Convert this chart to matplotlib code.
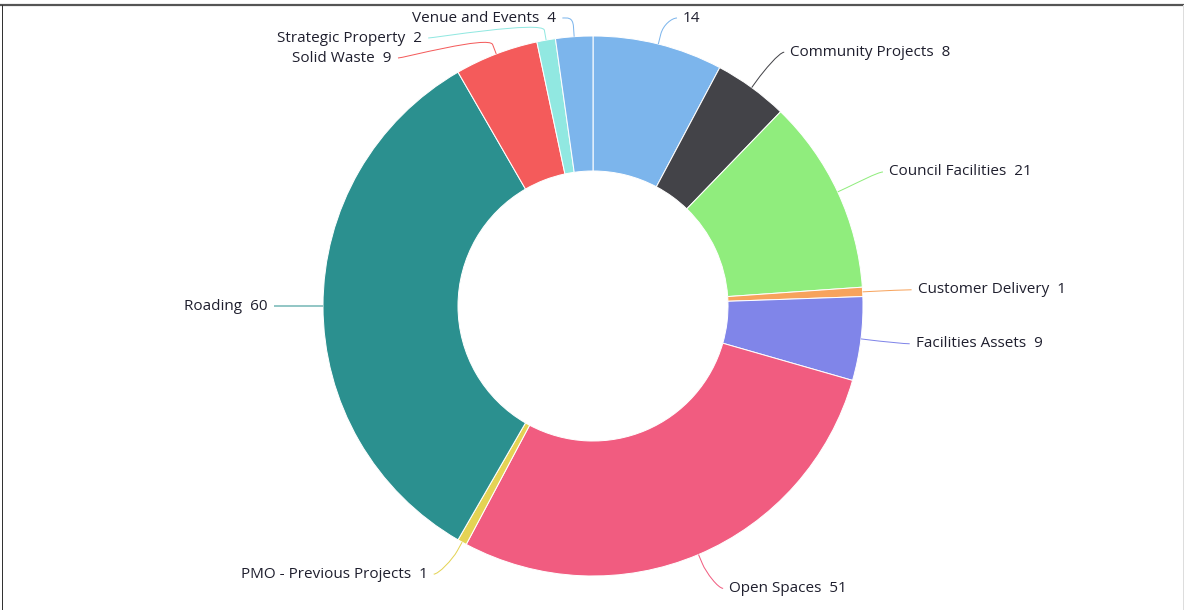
import numpy as np
import matplotlib
matplotlib.use("Agg")
import matplotlib.pyplot as plt
from matplotlib.path import Path
from matplotlib.patches import PathPatch

# --- data (clockwise from 12 o'clock) ---
names = ["", "Community Projects", "Council Facilities", "Customer Delivery",
         "Facilities Assets", "Open Spaces", "PMO - Previous Projects", "Roading",
         "Solid Waste", "Strategic Property", "Venue and Events"]
values = [14, 8, 21, 1, 9, 51, 1, 60, 9, 2, 4]
colors = ["#7cb5ec", "#434348", "#90ed7d", "#f7a35c", "#8085e9", "#f15c80",
          "#e4d354", "#2b908f", "#f45b5b", "#91e8e1", "#7cb5ec"]

W, H = 1184, 610
cx, cy = 593, 304          # pie centre, pixels (y up)
r = 270                    # outer radius
label_r = r + 40           # where labels sit
gap = 15                   # text gap from label point
px = 0.72                  # 1 pixel in points

fig = plt.figure(figsize=(W / 100, H / 100), dpi=100)
ax = fig.add_axes([0, 0, 1, 1])

ax.pie(values, colors=colors, startangle=90, counterclock=False,
       center=(cx, cy), radius=r,
       wedgeprops=dict(width=r * 0.5, edgecolor="white", linewidth=1.0 * px))

ax.set_xlim(0, W)
ax.set_ylim(0, H)
ax.set_aspect("equal")
ax.axis("off")

# angle of each slice middle, degrees clockwise from top
total = sum(values)
ends = np.cumsum(values) / total * 360
mids = ends - np.array(values) / total * 180

labels = []
for i, th in enumerate(mids):
    t = np.radians(th)
    side = 1 if th < 180 else -1
    lift = 3 if abs(np.cos(t)) > 0.3 else 0
    labels.append(dict(i=i, t=t, side=side,
                       y0=cy + label_r * np.cos(t) + lift,
                       xn=cx + label_r * np.sin(t)))

# push labels apart from the top on each side
for side in (1, -1):
    grp = sorted([l for l in labels if l["side"] == side], key=lambda l: -l["y0"])
    prev = None
    for l in grp:
        y = min(l["y0"], H - 18)
        if prev is not None:
            y = min(y, prev - 20)
        l["y"] = y
        prev = y

for l in labels:
    i, t, side, y = l["i"], l["t"], l["side"], l["y"]
    if abs(l["y0"] - y) > 25:
        dy = y - cy
        x = cx + side * np.sqrt(max(label_r ** 2 - dy ** 2, 0))
    else:
        x = l["xn"]
    tx = x + side * gap
    text = (names[i] + "  " + str(values[i])).strip()
    ax.text(tx, y, text, ha="left" if side > 0 else "right", va="center",
            fontsize=11, color="#1f1f2e", family="Open Sans")

    # soft connector: label -> break point -> slice edge
    touch = np.array([cx + r * np.sin(t), cy + r * np.cos(t)])
    brk = np.array([cx + (r + 10) * np.sin(t), cy + (r + 10) * np.cos(t)])
    lp = np.array([tx - side * 6, y])
    verts = [lp, lp + np.array([-side * 5, 0]), 2 * brk - touch, brk, touch]
    codes = [Path.MOVETO, Path.CURVE4, Path.CURVE4, Path.CURVE4, Path.LINETO]
    ax.add_patch(PathPatch(Path(verts, codes), fill=False,
                           edgecolor=colors[i], linewidth=1.0 * px))

# frame lines of the screenshot
fig.add_artist(plt.Line2D([0, 1], [1 - 5 / H, 1 - 5 / H], color="#555555",
                          linewidth=2.2 * px))
fig.add_artist(plt.Line2D([2 / W, 2 / W], [0, 1 - 5 / H], color="#333333",
                          linewidth=1.0 * px))
fig.add_artist(plt.Line2D([1 - 1 / W, 1 - 1 / W], [0, 1 - 5 / H], color="#dddddd",
                          linewidth=1.0 * px))

fig.savefig("out.png", dpi=100, facecolor="white")
